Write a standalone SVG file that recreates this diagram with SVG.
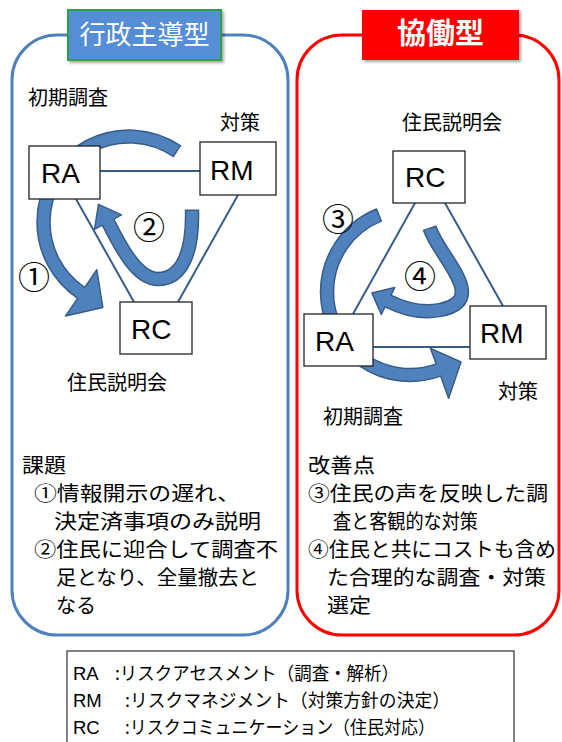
<svg xmlns="http://www.w3.org/2000/svg" width="562" height="742" viewBox="0 0 562 742">
<defs>
<filter id="sh" x="-10%" y="-20%" width="130%" height="160%">
<feDropShadow dx="2" dy="2" stdDeviation="1.5" flood-color="#000" flood-opacity="0.35"/>
</filter>
</defs>
<style>
.jp{font-family:"Noto Sans CJK JP","Noto Sans",sans-serif;fill:#000}
.lab{font-size:20px}
.body{font-size:20px}
.leg{font-size:18.5px}
.num{font-size:32px;text-anchor:middle}
.lat{font-family:"Liberation Sans",Arial,sans-serif;fill:#000}
.box{fill:#fff;stroke:#222;stroke-width:1.3}
.bt{font-family:"Liberation Sans",Arial,sans-serif;font-size:28px;fill:#000}
.con{stroke:#385D8A;stroke-width:2;fill:none}
.arw{fill:#4F81BD;stroke:#385D8A;stroke-width:1.5;stroke-linejoin:round}
.arwD{fill:none;stroke:#385D8A;stroke-width:14.5}
.arwB{fill:none;stroke:#4F81BD;stroke-width:11.5}
</style>
<rect width="562" height="742" fill="#fff"/>

<g id="panel-left">
<rect x="12" y="35" width="276" height="600" rx="45" ry="45" fill="none" stroke="#4F81BD" stroke-width="3"/>
<rect x="68" y="10" width="153" height="50" fill="#558ED5" stroke="#2E9E48" stroke-width="2" filter="url(#sh)"/>
<text x="144.5" y="44" class="jp" style="font-size:26px;fill:#fff" text-anchor="middle">行政主導型</text>
<text x="28" y="105" class="jp lab">初期調査</text>
<text x="220" y="130" class="jp lab">対策</text>
<text x="67" y="390" class="jp lab">住民説明会</text>
<text x="22" y="472.5" class="jp body" textLength="44" lengthAdjust="spacingAndGlyphs">課題</text>
<text x="34" y="500.5" class="jp body" textLength="206" lengthAdjust="spacingAndGlyphs">①情報開示の遅れ、</text>
<text x="54" y="528.5" class="jp body" textLength="207" lengthAdjust="spacingAndGlyphs">決定済事項のみ説明</text>
<text x="34" y="556.5" class="jp body" textLength="244" lengthAdjust="spacingAndGlyphs">②住民に迎合して調査不</text>
<text x="56" y="584.5" class="jp body" textLength="203" lengthAdjust="spacingAndGlyphs">足となり、全量撤去と</text>
<text x="56" y="612.5" class="jp body">なる</text>
</g>

<g id="panel-right">
<rect x="297" y="35" width="262" height="600" rx="45" ry="45" fill="none" stroke="#FF0000" stroke-width="3"/>
<rect x="362" y="10" width="157" height="50" fill="#FF0000" filter="url(#sh)"/>
<text x="440.5" y="44" class="jp" style="font-size:29px;font-weight:bold;fill:#fff" text-anchor="middle">協働型</text>
<text x="402" y="130" class="jp lab">住民説明会</text>
<text x="498" y="399" class="jp lab">対策</text>
<text x="323" y="424" class="jp lab">初期調査</text>
<text x="308" y="472.5" class="jp body" textLength="67" lengthAdjust="spacingAndGlyphs">改善点</text>
<text x="308" y="500.5" class="jp body" textLength="240" lengthAdjust="spacingAndGlyphs">③住民の声を反映した調</text>
<text x="333" y="528.5" class="jp body" textLength="145" lengthAdjust="spacingAndGlyphs">査と客観的な対策</text>
<text x="308" y="556.5" class="jp body" textLength="248" lengthAdjust="spacingAndGlyphs">④住民と共にコストも含め</text>
<text x="327" y="584.5" class="jp body" textLength="219" lengthAdjust="spacingAndGlyphs">た合理的な調査・対策</text>
<text x="327" y="612.5" class="jp body" textLength="44" lengthAdjust="spacingAndGlyphs">選定</text>
</g>

<g id="connectors">
<line class="con" x1="100" y1="171" x2="200" y2="171"/>
<line class="con" x1="76" y1="199" x2="134" y2="302"/>
<line class="con" x1="238" y1="195" x2="178" y2="302"/>
<line class="con" x1="373" y1="347" x2="470" y2="347"/>
<line class="con" x1="415" y1="203" x2="353" y2="314"/>
<line class="con" x1="445" y1="203" x2="503" y2="306"/>
</g>

<g id="arrows">
<path id="arrow1" class="arw" d="M180.4,145.7 A92,92 0 0 0 37,222 A92,92 0 0 0 77.6,298.3 L65.5,316.1 L102.8,307.4 L96.8,269.7 L84.8,287.5 A79,79 0 0 1 50,222 A79,79 0 0 1 173.2,156.5 Z"/>
<g id="arrow2">
<path class="arwD" d="M192,209.5 L192,211 C193,252 182,279 158,279 C138,279 122,250 108,222"/>
<polygon class="arw" points="121.5,214.9 98.5,204.4 94.5,229.3"/>
<path class="arwB" d="M192,211 C193,252 182,279 158,279 C138,279 122,250 108,222 l-0.95,-1.9"/>
</g>
<path id="arrow3" class="arw" d="M376.5,209 A89.5,89.5 0 0 0 320.5,292 A89.5,89.5 0 0 0 440.6,376.1 L448.6,398.2 L461,362 L430.5,348.4 L436.2,363.9 A76.5,76.5 0 0 1 333.5,292 A76.5,76.5 0 0 1 381.3,221.1 Z"/>
<g id="arrow4">
<path class="arwD" d="M429.5,227.6 L430,229 C440,258 490,300 440,310 C420,314 400,307 388,301"/>
<polygon class="arw" points="394.7,287.6 371.9,293 381.3,314.4"/>
<path class="arwB" d="M430,229 C440,258 490,300 440,310 C420,314 400,307 388,301 l-1.8,-0.9"/>
</g>
<text x="34" y="289" class="jp num">①</text>
<text x="149" y="239" class="jp num">②</text>
<text x="338" y="231" class="jp num">③</text>
<text x="420" y="288" class="jp num">④</text>
</g>

<g id="node-RA-left"><rect class="box" x="29" y="146" width="71" height="53"/><text class="bt" x="41" y="183">RA</text></g>
<g id="node-RM-left"><rect class="box" x="200" y="142" width="76" height="53"/><text class="bt" x="210" y="180">RM</text></g>
<g id="node-RC-left"><rect class="box" x="120" y="302" width="72" height="52"/><text class="bt" x="131" y="339">RC</text></g>
<g id="node-RC-right"><rect class="box" x="393" y="151" width="72" height="52"/><text class="bt" x="405" y="187">RC</text></g>
<g id="node-RA-right"><rect class="box" x="304" y="314" width="69" height="52"/><text class="bt" x="315" y="351">RA</text></g>
<g id="node-RM-right"><rect class="box" x="470" y="306" width="76" height="53"/><text class="bt" x="480" y="343">RM</text></g>

<g id="legend">
<rect x="67" y="651" width="447" height="100" fill="#fff" stroke="#333" stroke-width="1.2"/>
<text x="73" y="680" class="lat leg">RA</text>
<text x="115" y="680" class="jp leg" textLength="284" lengthAdjust="spacingAndGlyphs">:リスクアセスメント（調査・解析）</text>
<text x="73" y="707" class="lat leg">RM</text>
<text x="125" y="707" class="jp leg" textLength="325" lengthAdjust="spacingAndGlyphs">:リスクマネジメント（対策方針の決定）</text>
<text x="73" y="734" class="lat leg">RC</text>
<text x="125" y="734" class="jp leg" textLength="310" lengthAdjust="spacingAndGlyphs">:リスクコミュニケーション（住民対応）</text>
</g>
</svg>
